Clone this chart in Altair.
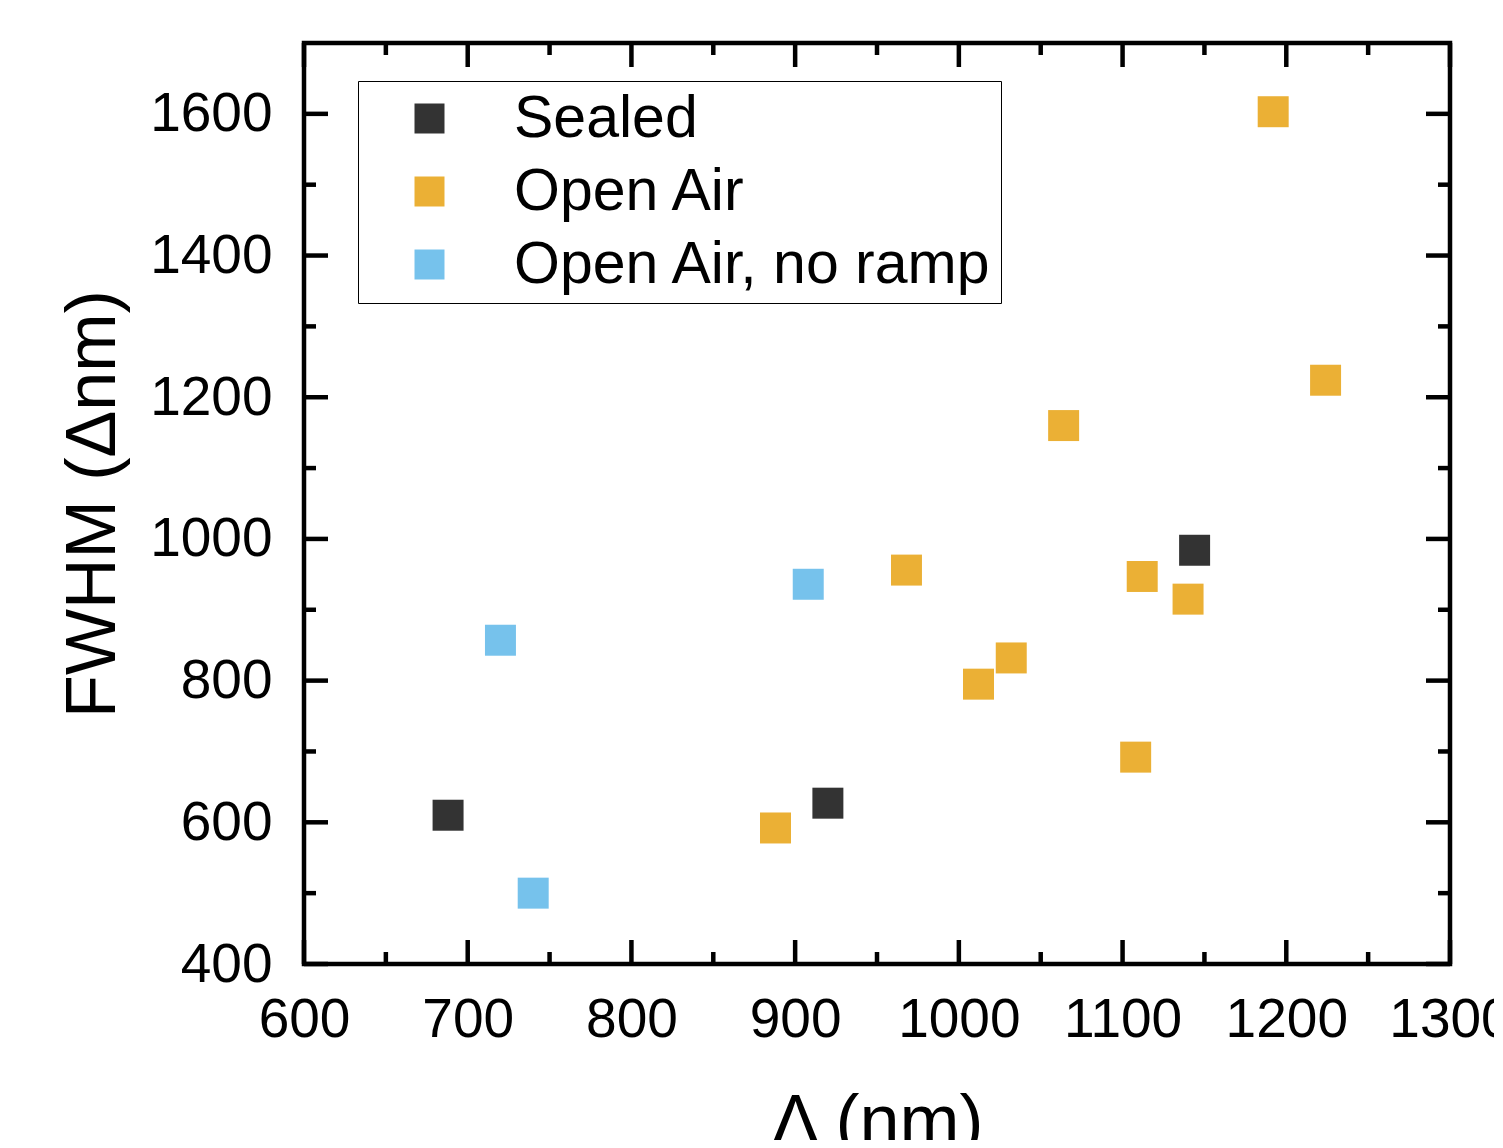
import altair as alt
import pandas as pd

# Data
series_names = ["Sealed", "Open Air", "Open Air, no ramp"]
series_colors = ["#333333", "#EBB035", "#76C2EC"]

sealed_x = [688, 920, 1144]
sealed_y = [610, 627, 984]
open_x = [888, 968, 1012, 1032, 1064, 1108, 1112, 1140, 1192, 1224]
open_y = [592, 956, 795, 832, 1160, 692, 947, 915, 1603, 1224]
noramp_x = [720, 740, 908]
noramp_y = [857, 500, 936]

x_major = [600, 700, 800, 900, 1000, 1100, 1200, 1300]
x_minor = [650, 750, 850, 950, 1050, 1150, 1250]
y_major = [400, 600, 800, 1000, 1200, 1400, 1600]
y_minor = [500, 700, 900, 1100, 1300, 1500]

W, H = 1146, 921
FONT = "Liberation Sans"
MAJ, MIN = 24, 12
TW = 4.5

rows = []
for name, xs, ys in [(series_names[0], sealed_x, sealed_y),
                     (series_names[1], open_x, open_y),
                     (series_names[2], noramp_x, noramp_y)]:
    for a, b in zip(xs, ys):
        rows.append({"series": name, "wl": a, "fwhm": b})
df = pd.DataFrame(rows)

xscale = alt.Scale(domain=[600, 1300], nice=False, zero=False)
yscale = alt.Scale(domain=[400, 1700], nice=False, zero=False)

xaxis = alt.Axis(values=x_major, format="d", title="Λ (nm)", grid=False, ticks=False,
                 domain=False, labelFontSize=55, labelFont=FONT, labelColor="black",
                 labelPadding=29, labelOverlap=False, labelFlush=False,
                 titleFontSize=72, titleFont=FONT, titleFontWeight="normal",
                 titleColor="black", titlePadding=40)
yaxis = alt.Axis(values=y_major, format="d", title="FWHM (Δnm)", grid=False, ticks=False,
                 domain=False, labelFontSize=55, labelFont=FONT, labelColor="black",
                 labelPadding=32, labelOverlap=False, labelFlush=False,
                 titleFontSize=70, titleFont=FONT, titleFontWeight="normal",
                 titleColor="black", titlePadding=20)

points = alt.Chart(df).mark_point(shape="square", filled=True, opacity=1, size=960).encode(
    x=alt.X("wl:Q", scale=xscale, axis=xaxis),
    y=alt.Y("fwhm:Q", scale=yscale, axis=yaxis),
    color=alt.Color("series:N",
                    scale=alt.Scale(domain=series_names, range=series_colors),
                    sort=series_names,
                    legend=alt.Legend(title=None, orient="none", legendX=54, legendY=38,
                                      symbolType="square", symbolSize=900, symbolStrokeWidth=0,
                                      labelFontSize=59, labelFont=FONT, labelColor="black",
                                      labelLimit=1000, labelOffset=55, symbolOffset=34,
                                      rowPadding=13, padding=8, strokeColor="black",
                                      cornerRadius=0, fillColor="white")),
)

xmaj = pd.DataFrame({"wl": x_major})
xmin = pd.DataFrame({"wl": x_minor})
ymaj = pd.DataFrame({"fwhm": y_major})
ymin = pd.DataFrame({"fwhm": y_minor})


def xticks(data, length, top):
    y0 = 0 if top else H
    y1 = length if top else H - length
    return alt.Chart(data).mark_rule(color="black", strokeWidth=TW).encode(
        x=alt.X("wl:Q", scale=xscale, axis=xaxis), y=alt.value(y0), y2=alt.value(y1))


def yticks(data, length, right):
    x0 = W if right else 0
    x1 = W - length if right else length
    return alt.Chart(data).mark_rule(color="black", strokeWidth=TW).encode(
        y=alt.Y("fwhm:Q", scale=yscale, axis=yaxis), x=alt.value(x0), x2=alt.value(x1))


ticks = [
    xticks(xmaj, MAJ, False), xticks(xmin, MIN, False),
    xticks(xmaj, MAJ, True), xticks(xmin, MIN, True),
    yticks(ymaj, MAJ, False), yticks(ymin, MIN, False),
    yticks(ymaj, MAJ, True), yticks(ymin, MIN, True),
]

chart = alt.layer(points, *ticks).properties(
    width=W, height=H,
    autosize=alt.AutoSizeParams(type="none"),
    padding={"left": 296, "top": 35, "right": 44, "bottom": 176},
).configure_view(stroke="black", strokeWidth=TW)

chart.save("out.html", embed_options={"renderer": "svg", "actions": False})
